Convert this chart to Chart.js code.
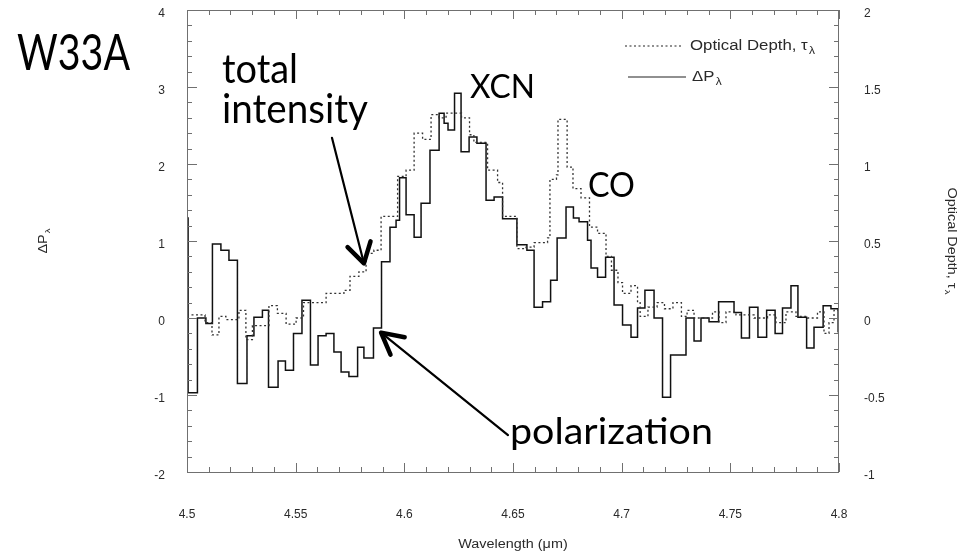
<!DOCTYPE html>
<html><head><meta charset="utf-8">
<script src="https://cdn.jsdelivr.net/npm/chart.js@4.4.1/dist/chart.umd.min.js"></script>
<style>html,body{margin:0;padding:0;background:#fff;}#wrap{width:971px;height:556px;}</style>
</head><body><div id="wrap"><canvas id="c" width="971" height="556"></canvas></div>
<script>
// ---- data (step start wavelength, value) ----
const wavelengthP = [4.5000,4.5005,4.5048,4.5087,4.5117,4.5156,4.5193,4.5232,4.5276,4.5308,4.5347,4.5375,4.5419,4.5453,4.5490,4.5529,4.5568,4.5603,4.5640,4.5676,4.5709,4.5745,4.5785,4.5814,4.5858,4.5895,4.5934,4.5962,4.5978,4.6008,4.6045,4.6077,4.6118,4.6160,4.6183,4.6201,4.6231,4.6261,4.6298,4.6334,4.6376,4.6413,4.6452,4.6518,4.6564,4.6597,4.6636,4.6673,4.6703,4.6744,4.6778,4.6804,4.6843,4.6859,4.6889,4.6926,4.6965,4.7004,4.7043,4.7073,4.7107,4.7149,4.7188,4.7225,4.7296,4.7333,4.7365,4.7402,4.7446,4.7517,4.7551,4.7588,4.7627,4.7667,4.7706,4.7740,4.7779,4.7811,4.7851,4.7885,4.7927,4.7963,4.7996,4.8000];
const deltaP = [1.30,-0.97,0.00,-0.07,0.96,0.88,0.75,-0.85,-0.23,0.01,0.10,-0.90,-0.56,-0.68,-0.20,0.23,-0.61,-0.23,-0.20,-0.44,-0.70,-0.76,-0.38,-0.52,-0.13,0.73,1.18,1.27,1.82,1.34,1.05,1.49,2.18,2.66,2.53,2.44,2.92,2.16,2.35,2.27,1.53,1.57,1.29,0.95,0.88,0.14,0.21,0.49,1.04,1.44,1.30,1.25,1.01,0.65,0.53,0.79,0.17,-0.09,-0.25,0.13,0.36,0.00,-1.03,-0.48,0.00,-0.30,0.00,-0.05,0.21,0.07,-0.26,0.14,-0.25,0.10,-0.20,0.13,0.42,0.01,-0.39,-0.12,0.16,0.12,-0.18,-0.18];
const wavelengthTau = [4.5000,4.5083,4.5115,4.5147,4.5179,4.5239,4.5271,4.5301,4.5377,4.5416,4.5456,4.5502,4.5536,4.5640,4.5722,4.5750,4.5791,4.5824,4.5860,4.5893,4.5969,4.6008,4.6045,4.6084,4.6123,4.6160,4.6192,4.6263,4.6300,4.6320,4.6383,4.6429,4.6452,4.6518,4.6560,4.6597,4.6659,4.6670,4.6700,4.6707,4.6749,4.6776,4.6813,4.6852,4.6889,4.6928,4.6953,4.6983,4.7004,4.7043,4.7073,4.7085,4.7121,4.7163,4.7197,4.7236,4.7275,4.7301,4.7333,4.7418,4.7448,4.7480,4.7526,4.7609,4.7671,4.7710,4.7756,4.7802,4.7855,4.7901,4.7931,4.7954,4.7977,4.8000];
const opticalDepth = [0.02,-0.03,-0.11,0.01,-0.01,0.05,-0.14,-0.05,0.08,0.03,-0.04,0.00,0.10,0.16,0.18,0.27,0.30,0.42,0.44,0.66,0.92,0.96,1.20,1.16,1.32,1.30,1.33,1.30,1.19,1.14,0.96,0.88,0.66,0.45,0.46,0.49,0.52,0.90,0.93,1.29,0.98,0.84,0.78,0.59,0.55,0.40,0.31,0.23,0.16,0.21,0.10,0.01,0.07,0.10,0.06,0.10,0.01,0.05,0.00,0.04,-0.03,0.04,0.02,0.00,0.02,-0.03,0.04,0.01,0.00,0.04,-0.10,-0.03,0.05,0.05];

const xTickValues = [4.5,4.55,4.6,4.65,4.7,4.75,4.8];
const xTickLabels = ['4.5','4.55','4.6','4.65','4.7','4.75','4.8'];
const yTickValues = [-2,-1,0,1,2,3,4];
const yTickLabels = ['-2','-1','0','1','2','3','4'];
const y2TickValues = [-1,-0.5,0,0.5,1,1.5,2];
const y2TickLabels = ['-1','-0.5','0','0.5','1','1.5','2'];

// annotations (data coordinates on x / left axis)
const annotations = [
  {text:'W33A', x0:4.4218, x1:4.4738, y:3.22, size:50},
  {text:'total', x0:4.5161, x1:4.5511, y:3.05, size:41},
  {text:'intensity', x0:4.5161, x1:4.5833, y:2.53, size:41},
  {text:'XCN', x0:4.6302, x1:4.6601, y:2.857, size:33},
  {text:'CO', x0:4.6845, x1:4.7061, y:1.571, size:34},
  {text:'polarization', x0:4.6486, x1:4.7420, y:-1.636, size:37}
];
const arrows = [
  {from:[4.5667,2.34], to:[4.5814,0.71], ang:31, len:23},
  {from:[4.6477,-1.52], to:[4.5893,-0.19], ang:28, len:24}
];

const tickFont = {family:'Liberation Sans, Arial, sans-serif', size:12};
const TXT = '#2a2a2a';
const STRETCH = 1.2;

function drawSub(ctx, main, sub, x, y, size, align){
  ctx.save();
  ctx.translate(x, y); ctx.scale(STRETCH, 1);
  ctx.font = size+'px "Liberation Sans", Arial, sans-serif';
  const w1 = ctx.measureText(main).width;
  ctx.font = Math.round(size*0.7)+'px "Liberation Sans", Arial, sans-serif';
  const w2 = ctx.measureText(sub).width;
  let sx = 0;
  if (align==='center') sx = -(w1+w2+1)/2;
  ctx.textAlign='left'; ctx.textBaseline='middle';
  ctx.font = size+'px "Liberation Sans", Arial, sans-serif';
  ctx.fillText(main, sx, 0);
  ctx.font = Math.round(size*0.7)+'px "Liberation Sans", Arial, sans-serif';
  ctx.fillText(sub, sx+w1+1, size*0.35);
  ctx.restore();
}

const decor = {
  id:'decor',
  afterDraw(chart){
    const {ctx, chartArea:a, scales} = chart;
    const X = scales.x, Y = scales.y, Y2 = scales.y2;
    ctx.save();
    // frame
    ctx.strokeStyle='#707070'; ctx.lineWidth=1;
    ctx.strokeRect(Math.round(a.left)+0.5, Math.round(a.top)+0.5, Math.round(a.right-a.left)-1, Math.round(a.bottom-a.top));
    const seg=(x0,y0,x1,y1)=>{ctx.beginPath();ctx.moveTo(x0,y0);ctx.lineTo(x1,y1);ctx.stroke();};
    // x minor/major ticks (top & bottom, inward)
    for(let k=450;k<=480;k++){
      const px=Math.round(X.getPixelForValue(k/100))+0.5, L=(k%5===0)?9:5;
      seg(px,a.bottom,px,a.bottom-L); seg(px,a.top,px,a.top+L);
    }
    for(let k=-10;k<=20;k++){
      const py=Math.round(Y.getPixelForValue(k/5))+0.5, L=(k%5===0)?10:5;
      seg(a.left,py,a.left+L,py);
    }
    for(let k=-10;k<=20;k++){
      const py=Math.round(Y2.getPixelForValue(k/10))+0.5, L=(k%5===0)?10:5;
      seg(a.right,py,a.right-L,py);
    }
    // axis titles
    ctx.fillStyle=TXT;
    const midY=(a.top+a.bottom)/2;
    ctx.save(); ctx.translate(a.left-143, midY); ctx.rotate(-Math.PI/2);
    drawSub(ctx,'\u0394P','\u03bb',0,0,12,'center'); ctx.restore();
    ctx.save(); ctx.translate(a.right+112, midY); ctx.rotate(Math.PI/2);
    drawSub(ctx,'Optical Depth, \u03c4','\u03bb',0,0,12,'center'); ctx.restore();
    ctx.save(); ctx.translate((a.left+a.right)/2, a.bottom+73); ctx.scale(STRETCH,1);
    ctx.font='12px "Liberation Sans", Arial, sans-serif'; ctx.textAlign='center'; ctx.textBaseline='middle';
    ctx.fillText('Wavelength (\u03bcm)', 0, 0); ctx.restore();
    // legend
    ctx.strokeStyle='#222'; ctx.lineWidth=1.2;
    ctx.setLineDash([2,2.5]); seg(a.right-214,a.top+36,a.right-156,a.top+36);
    ctx.setLineDash([]); seg(a.right-211,a.top+67,a.right-153,a.top+67);
    drawSub(ctx,'Optical Depth, \u03c4','\u03bb',a.right-149,a.top+36,14,'left');
    drawSub(ctx,'\u0394P','\u03bb',a.right-147,a.top+67,14,'left');
    // annotations
    ctx.fillStyle='#000';
    annotations.forEach(t=>{
      const x0=X.getPixelForValue(t.x0), x1=X.getPixelForValue(t.x1), yb=Y.getPixelForValue(t.y);
      ctx.font=t.size+'px Lato, "Open Sans", sans-serif'; ctx.textAlign='left'; ctx.textBaseline='alphabetic';
      const w=ctx.measureText(t.text).width;
      ctx.save(); ctx.translate(x0,yb); ctx.scale((x1-x0)/w,1); ctx.fillText(t.text,0,0); ctx.restore();
    });
    // arrows
    ctx.strokeStyle='#000'; ctx.lineCap='round'; ctx.lineJoin='round';
    arrows.forEach(r=>{
      const fx=X.getPixelForValue(r.from[0]), fy=Y.getPixelForValue(r.from[1]);
      const tx=X.getPixelForValue(r.to[0]), ty=Y.getPixelForValue(r.to[1]);
      ctx.lineWidth=2.2; seg(fx,fy,tx,ty);
      const back=Math.atan2(fy-ty,fx-tx), d=r.ang*Math.PI/180;
      ctx.lineWidth=4.5;
      ctx.beginPath();
      ctx.moveTo(tx+r.len*Math.cos(back+d), ty+r.len*Math.sin(back+d));
      ctx.lineTo(tx,ty);
      ctx.lineTo(tx+r.len*Math.cos(back-d), ty+r.len*Math.sin(back-d));
      ctx.stroke();
    });
    ctx.restore();
  }
};

function fixTicks(values){ return function(scale){ scale.ticks = values.map(v=>({value:v})); }; }
function noPad(s){ s.paddingTop=0; s.paddingBottom=0; s.paddingLeft=0; s.paddingRight=0; }

new Chart(document.getElementById('c'), {
  type:'line',
  data:{datasets:[
    {label:'Optical Depth', yAxisID:'y2', data:wavelengthTau.map((w,i)=>({x:w,y:opticalDepth[i]})),
     stepped:'before', borderColor:'#333', borderWidth:1.3, borderDash:[2,2.5], pointRadius:0, fill:false},
    {label:'\u0394P', yAxisID:'y', data:wavelengthP.map((w,i)=>({x:w,y:deltaP[i]})),
     stepped:'before', borderColor:'#111', borderWidth:1.5, pointRadius:0, fill:false}
  ]},
  options:{
    responsive:false, animation:false, devicePixelRatio:1,
    layout:{padding:{left:0,right:0,top:10,bottom:0}},
    plugins:{legend:{display:false}, tooltip:{enabled:false}},
    scales:{
      x:{type:'linear', position:'bottom', min:4.5, max:4.8,
         afterBuildTicks:fixTicks(xTickValues),
         afterFit(s){s.height=84; noPad(s);},
         grid:{display:false, drawTicks:false, tickLength:0}, border:{display:false},
         ticks:{padding:35, color:TXT, font:tickFont, maxRotation:0, autoSkip:false,
                callback:(v,i)=>xTickLabels[i]}},
      y:{type:'linear', position:'left', min:-2, max:4,
         afterBuildTicks:fixTicks(yTickValues),
         afterFit(s){s.width=187; noPad(s);},
         grid:{display:false, drawTicks:false, tickLength:0}, border:{display:false},
         ticks:{padding:22, color:TXT, font:tickFont, labelOffset:4, callback:(v,i)=>yTickLabels[i]}},
      y2:{type:'linear', position:'right', min:-1, max:2,
         afterBuildTicks:fixTicks(y2TickValues),
         afterFit(s){s.width=132; noPad(s);},
         grid:{display:false, drawTicks:false, tickLength:0}, border:{display:false},
         ticks:{padding:25, color:TXT, font:tickFont, labelOffset:4, callback:(v,i)=>y2TickLabels[i]}}
    }
  },
  plugins:[decor]
});
</script></body></html>
